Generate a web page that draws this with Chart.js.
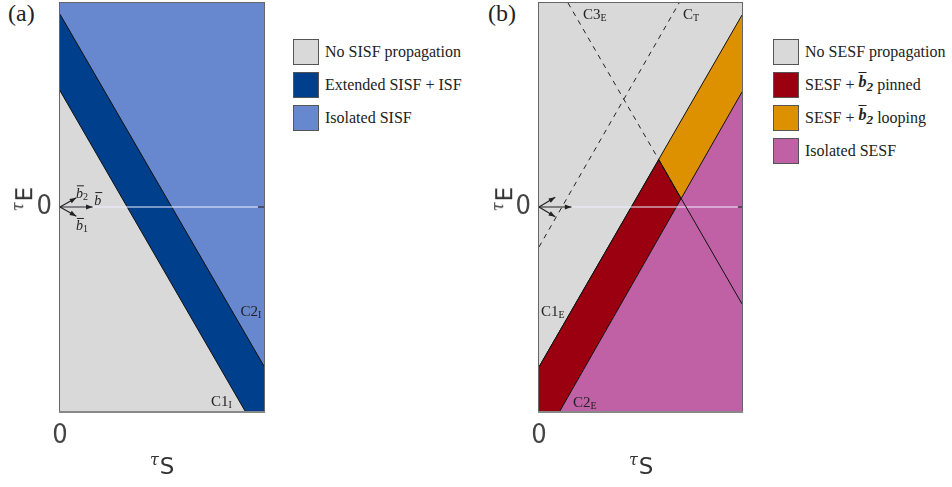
<!DOCTYPE html>
<html>
<head>
<meta charset="utf-8">
<script src="https://cdn.jsdelivr.net/npm/chart.js@4/dist/chart.umd.min.js"></script>
<style>
  body { margin: 0; width: 952px; height: 487px; background: #fff; position: relative; overflow: hidden; font-family: "Liberation Serif", serif; color: #222; }
  .cv { position: absolute; top: 0; }
  .tag { position: absolute; top: 0; font-size: 24px; }
  .legend { position: absolute; top: 35px; font-size: 16px; }
  .row { display: flex; align-items: center; height: 33px; }
  .box { width: 24px; height: 24px; border: 1.5px solid #555; margin-right: 6px; box-sizing: content-box; }
  .bb { font-weight: bold; font-style: italic; }
  .bb span { text-decoration: overline; }
  .title { position: absolute; font-family: "DejaVu Sans", sans-serif; font-size: 23px; color: #333; white-space: nowrap; }
  .title .t { font-family: "DejaVu Serif", serif; font-style: italic; font-size: 16px; position: relative; top: -9px; margin-right: 1px; }
  .ty { transform: rotate(-90deg); transform-origin: center; }
</style>
</head>
<body>
<div class="tag" style="left:8px">(a)</div>
<div class="tag" style="left:488px">(b)</div>

<canvas id="chartA" class="cv" width="280" height="487" style="left:0"></canvas>
<canvas id="chartB" class="cv" width="280" height="487" style="left:480px"></canvas>

<div class="legend" style="left:293px">
  <div class="row"><div class="box" style="background:#d9d9d9"></div>No SISF propagation</div>
  <div class="row"><div class="box" style="background:#003f8b"></div>Extended SISF + ISF</div>
  <div class="row"><div class="box" style="background:#6788cf"></div>Isolated SISF</div>
</div>
<div class="legend" style="left:773px">
  <div class="row"><div class="box" style="background:#d9d9d9"></div>No SESF propagation</div>
  <div class="row"><div class="box" style="background:#9b0010"></div>SESF +&nbsp;<span class="bb"><span>b</span><sub>2</sub></span>&nbsp;pinned</div>
  <div class="row"><div class="box" style="background:#dd9000"></div>SESF +&nbsp;<span class="bb"><span>b</span><sub>2</sub></span>&nbsp;looping</div>
  <div class="row"><div class="box" style="background:#c060a5"></div>Isolated SESF</div>
</div>

<div class="title ty" style="left:12px; top:186px"><span class="t">τ</span>E</div>
<div class="title" style="left:150px; top:453px"><span class="t">τ</span>S</div>
<div class="title ty" style="left:492px; top:186px"><span class="t">τ</span>E</div>
<div class="title" style="left:629px; top:453px"><span class="t">τ</span>S</div>

<script>
// panel (a) boundaries, in (tauS, tauE) units; axes run 0..1 and -1..1
const c1I = [[0, 0.57], [0.907, -1]];
const c2I = [[0, 0.945], [1, -0.78]];
const fullTop = [[0, 1], [1, 1]];

// panel (b) boundaries
const c1E = [[0, -0.784], [1, 0.941]];
const c2E = [[0.103, -1], [1, 0.564]];
const pinnedEdge = [[0, -0.784], [0.59, 0.232], [0.70, 0.04]];
const c3EDashed = [[0.143, 1], [0.59, 0.232]];
const c3ESolid = [[0.59, 0.232], [1, -0.475]];
const cT = [[0, -0.196], [0.69, 1]];

// zero lines and slip vectors
const zeroA = [[0, 0], [0.97, 0]];
const zeroB = [[0.16, 0], [0.98, 0]];
const tickA = [[0.97, 0], [1, 0]];
const tickB = [[0.98, 0], [1, 0]];
const arrowsA = [[0.16, 0], [0.08, 0.045], [0.08, -0.045]];
const arrowsB = [[0.16, 0], [0.08, 0.048], [0.08, -0.048]];

const labelsA = [
  { t: 'C1', s: 'I', x: 0.74, y: -0.975 },
  { t: 'C2', s: 'I', x: 0.885, y: -0.535 }
];
const labelsB = [
  { t: 'C1', s: 'E', x: 0.01, y: -0.535 },
  { t: 'C2', s: 'E', x: 0.167, y: -0.98 },
  { t: 'C3', s: 'E', x: 0.217, y: 0.92 },
  { t: 'C', s: 'T', x: 0.709, y: 0.92 }
];
const vecLabels = [
  { t: 'b', s: '2', x: 0.078, y: 0.045 },
  { t: 'b', s: '', x: 0.168, y: 0.012 },
  { t: 'b', s: '1', x: 0.078, y: -0.115 }
];

const toPts = arr => arr.map(p => ({ x: p[0], y: p[1] }));

function region(pts, color, order, border) {
  return {
    data: toPts(pts), fill: 'start', backgroundColor: color,
    borderColor: border || '#111', borderWidth: border === 'none' ? 0 : 1,
    pointRadius: 0, order: order, tension: 0
  };
}
function line(pts, color, dash, width) {
  return {
    data: toPts(pts), fill: false, borderColor: color, borderWidth: width || 1,
    borderDash: dash || [], pointRadius: 0, order: 0, tension: 0
  };
}

const frame = {
  id: 'frame',
  afterDatasetsDraw(chart, args, opts) {
    const ctx = chart.ctx, a = chart.chartArea;
    const xs = chart.scales.x, ys = chart.scales.y;
    ctx.save();
    // arrows from the origin
    const ox = xs.getPixelForValue(0), oy = ys.getPixelForValue(0);
    ctx.strokeStyle = '#222'; ctx.fillStyle = '#222'; ctx.lineWidth = 1.2;
    opts.arrows.forEach(v => {
      const tx = xs.getPixelForValue(v[0]), ty = ys.getPixelForValue(v[1]);
      const ang = Math.atan2(ty - oy, tx - ox);
      ctx.beginPath(); ctx.moveTo(ox, oy); ctx.lineTo(tx, ty); ctx.stroke();
      ctx.beginPath();
      ctx.moveTo(tx, ty);
      ctx.lineTo(tx - 7 * Math.cos(ang - 0.35), ty - 7 * Math.sin(ang - 0.35));
      ctx.lineTo(tx - 7 * Math.cos(ang + 0.35), ty - 7 * Math.sin(ang + 0.35));
      ctx.closePath(); ctx.fill();
    });
    // curve labels
    ctx.fillStyle = '#222'; ctx.lineWidth = 1;
    opts.labels.forEach(l => {
      const px = xs.getPixelForValue(l.x), py = ys.getPixelForValue(l.y);
      ctx.font = '15px "Liberation Serif", serif';
      ctx.fillText(l.t, px, py);
      const w = ctx.measureText(l.t).width;
      ctx.font = '10px "Liberation Serif", serif';
      ctx.fillText(l.s, px + w, py + 2);
    });
    (opts.vec || []).forEach(l => {
      const px = xs.getPixelForValue(l.x), py = ys.getPixelForValue(l.y);
      ctx.font = 'italic 14px "Liberation Serif", serif';
      ctx.fillText(l.t, px, py);
      const w = ctx.measureText(l.t).width;
      ctx.beginPath(); ctx.moveTo(px + 1, py - 12); ctx.lineTo(px + w + 1, py - 12); ctx.stroke();
      ctx.font = '10px "Liberation Serif", serif';
      ctx.fillText(l.s, px + w, py + 2);
    });
    // plot frame
    ctx.strokeStyle = '#666'; ctx.lineWidth = 1;
    ctx.strokeRect(a.left - 0.5, a.top - 0.5, a.right - a.left + 1, a.bottom - a.top + 1);
    ctx.strokeStyle = '#888'; ctx.lineWidth = 2;
    ctx.beginPath(); ctx.moveTo(a.left - 1, a.bottom + 1); ctx.lineTo(a.right + 1, a.bottom + 1); ctx.stroke();
    ctx.restore();
  }
};

function makeChart(id, datasets, yWidth, rightPad, plug) {
  const tickFont = { family: '"Liberation Sans Narrow", "DejaVu Sans Condensed", sans-serif', size: 27 };
  return new Chart(document.getElementById(id), {
    type: 'line',
    data: { datasets: datasets },
    options: {
      responsive: false, animation: false,
      layout: { padding: { top: 3, right: rightPad, left: 0, bottom: 0 } },
      plugins: { legend: { display: false }, tooltip: { enabled: false }, frame: plug },
      scales: {
        x: {
          type: 'linear', min: 0, max: 1,
          afterBuildTicks: s => { s.ticks = [{ value: 0 }]; },
          afterFit: s => { s.height = 76; s.paddingLeft = 0; s.paddingRight = 0; },
          grid: { display: false, drawTicks: false }, border: { display: false },
          ticks: { font: tickFont, color: '#444', padding: 9, maxRotation: 0 }
        },
        y: {
          type: 'linear', min: -1, max: 1,
          afterBuildTicks: s => { s.ticks = [{ value: 0 }]; },
          afterFit: s => { s.width = yWidth; s.paddingTop = 0; s.paddingBottom = 0; },
          grid: { display: false, drawTicks: false }, border: { display: false },
          ticks: { font: tickFont, color: '#444', padding: 8 }
        }
      }
    },
    plugins: [frame]
  });
}

makeChart('chartA', [
  line(zeroA, '#f0f0ff', [], 1.2),
  line(tickA, '#333', [], 1.2),
  region(c1I, '#d9d9d9', 1),
  region(c2I, '#003f8b', 2),
  region(fullTop, '#6788cf', 3, 'none')
], 60, 16, { arrows: arrowsA, labels: labelsA, vec: vecLabels });

makeChart('chartB', [
  line(c3EDashed, '#222', [5, 5]),
  line(cT, '#222', [5, 5]),
  line(c3ESolid, '#111'),
  line(zeroB, '#f0f0ff', [], 1.2),
  line(tickB, '#333', [], 1.2),
  region(c2E, '#c060a5', 1),
  region(pinnedEdge, '#9b0010', 2),
  region(c1E, '#dd9000', 3),
  region(fullTop, '#d9d9d9', 4, 'none')
], 59, 18, { arrows: arrowsB, labels: labelsB });
</script>
</body>
</html>
